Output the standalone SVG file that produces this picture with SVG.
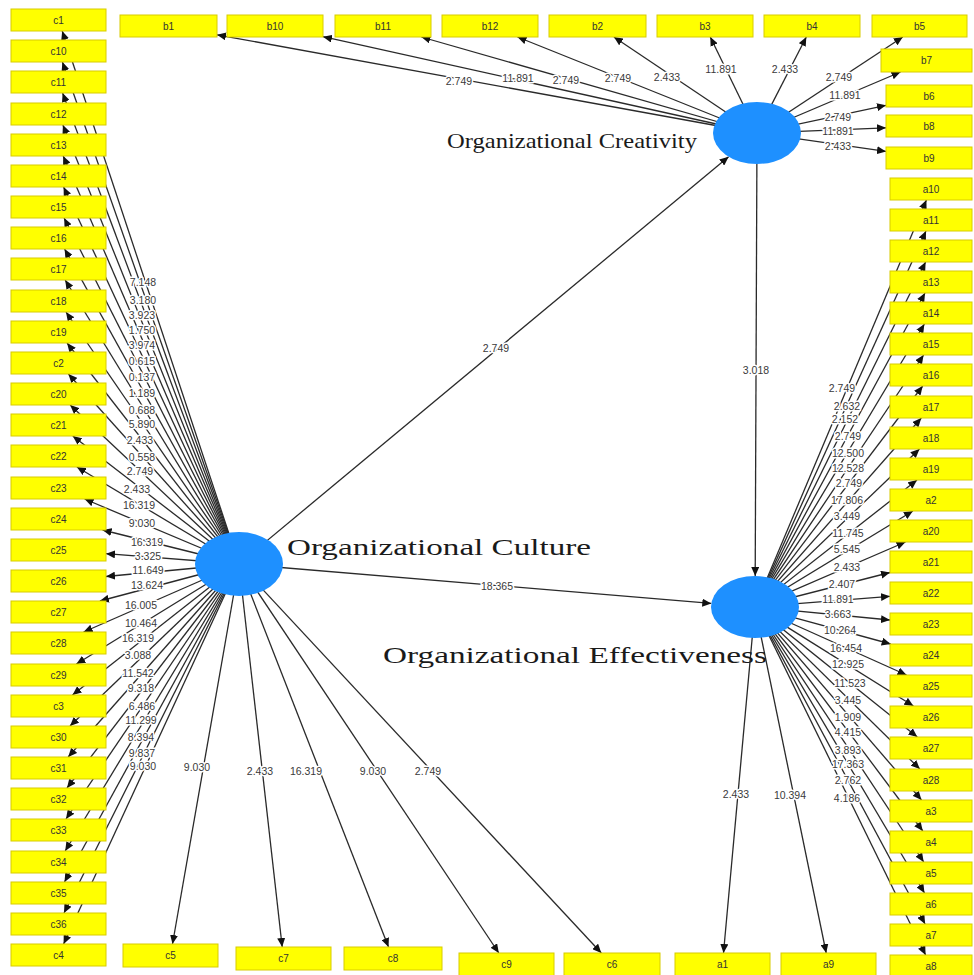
<svg xmlns="http://www.w3.org/2000/svg" width="974" height="975" viewBox="0 0 974 975">
<style>
.e{stroke:#2a2a2a;stroke-width:1.3;fill:none;marker-end:url(#ah)}
.l{font-family:"Liberation Sans",Arial,sans-serif;font-size:10.5px;fill:#3a3a3a;text-anchor:middle;stroke:#fff;stroke-width:3px;paint-order:stroke;stroke-linejoin:round}
.bx{fill:#ffff00;stroke:#d8cc00;stroke-width:1}
.bt{font-family:"Liberation Sans",Arial,sans-serif;font-size:10px;fill:#333;text-anchor:middle}
.lv{fill:#1e90ff}
.lt{font-family:"Liberation Serif","Times New Roman",serif;fill:#1a1a1a}
</style>
<defs>
<marker id="ah" viewBox="0 0 9 8" refX="9" refY="4" markerWidth="9" markerHeight="8" markerUnits="userSpaceOnUse" orient="auto">
<path d="M0,0 L9,4 L0,8 z" fill="#111"/>
</marker>
</defs>
<rect width="974" height="975" fill="#fff"/>
<g id="connectors">
<!-- structural -->
<line class="e" x1="239" y1="564" x2="728.6" y2="156.7"/>
<line class="e" x1="757" y1="133" x2="755.2" y2="576"/>
<line class="e" x1="239" y1="564" x2="711.3" y2="603.4"/>
<!-- culture to c (left) -->
<line class="e" x1="239" y1="564" x2="62.2" y2="31"/>
<line class="e" x1="239" y1="564" x2="62.4" y2="62"/>
<line class="e" x1="239" y1="564" x2="62.6" y2="93"/>
<line class="e" x1="239" y1="564" x2="62.9" y2="125"/>
<line class="e" x1="239" y1="564" x2="63.2" y2="156"/>
<line class="e" x1="239" y1="564" x2="63.6" y2="187"/>
<line class="e" x1="239" y1="564" x2="64.1" y2="218"/>
<line class="e" x1="239" y1="564" x2="64.6" y2="249"/>
<line class="e" x1="239" y1="564" x2="65.2" y2="280"/>
<line class="e" x1="239" y1="564" x2="66.0" y2="312"/>
<line class="e" x1="239" y1="564" x2="67.1" y2="343"/>
<line class="e" x1="239" y1="564" x2="68.4" y2="374"/>
<line class="e" x1="239" y1="564" x2="70.2" y2="405"/>
<line class="e" x1="239" y1="564" x2="72.8" y2="436"/>
<line class="e" x1="239" y1="564" x2="76.9" y2="467"/>
<line class="e" x1="239" y1="564" x2="84.6" y2="499"/>
<line class="e" x1="239" y1="564" x2="102.6" y2="530"/>
<line class="e" x1="239" y1="564" x2="106" y2="553.7"/>
<line class="e" x1="239" y1="564" x2="106" y2="576.5"/>
<line class="e" x1="239" y1="564" x2="99.9" y2="601"/>
<line class="e" x1="239" y1="564" x2="83.6" y2="632"/>
<line class="e" x1="239" y1="564" x2="76.4" y2="664"/>
<line class="e" x1="239" y1="564" x2="72.5" y2="695"/>
<line class="e" x1="239" y1="564" x2="70.0" y2="726"/>
<line class="e" x1="239" y1="564" x2="68.2" y2="757"/>
<line class="e" x1="239" y1="564" x2="67.0" y2="788"/>
<line class="e" x1="239" y1="564" x2="66.0" y2="819"/>
<line class="e" x1="239" y1="564" x2="65.2" y2="851"/>
<line class="e" x1="239" y1="564" x2="64.5" y2="882"/>
<line class="e" x1="239" y1="564" x2="64.0" y2="913"/>
<line class="e" x1="239" y1="564" x2="63.6" y2="944"/>
<!-- culture to bottom c -->
<line class="e" x1="239" y1="564" x2="172.5" y2="944"/>
<line class="e" x1="239" y1="564" x2="282.2" y2="947"/>
<line class="e" x1="239" y1="564" x2="388.5" y2="947"/>
<line class="e" x1="239" y1="564" x2="498.8" y2="953"/>
<line class="e" x1="239" y1="564" x2="601.3" y2="953"/>
<!-- creativity to b -->
<line class="e" x1="757" y1="133" x2="217" y2="34.8"/>
<line class="e" x1="757" y1="133" x2="323" y2="36.7"/>
<line class="e" x1="757" y1="133" x2="421.4" y2="37"/>
<line class="e" x1="757" y1="133" x2="517.5" y2="37"/>
<line class="e" x1="757" y1="133" x2="613.9" y2="37"/>
<line class="e" x1="757" y1="133" x2="710.3" y2="37"/>
<line class="e" x1="757" y1="133" x2="806.3" y2="37"/>
<line class="e" x1="757" y1="133" x2="902.8" y2="37"/>
<line class="e" x1="757" y1="133" x2="900.5" y2="72"/>
<line class="e" x1="757" y1="133" x2="886" y2="105.3"/>
<line class="e" x1="757" y1="133" x2="886" y2="127.8"/>
<line class="e" x1="757" y1="133" x2="886" y2="151.4"/>
<!-- effectiveness to a -->
<line class="e" x1="755" y1="607" x2="926.4" y2="200"/>
<line class="e" x1="755" y1="607" x2="926.0" y2="231"/>
<line class="e" x1="755" y1="607" x2="925.6" y2="262"/>
<line class="e" x1="755" y1="607" x2="925.0" y2="293"/>
<line class="e" x1="755" y1="607" x2="924.4" y2="324"/>
<line class="e" x1="755" y1="607" x2="923.6" y2="355"/>
<line class="e" x1="755" y1="607" x2="922.7" y2="386"/>
<line class="e" x1="755" y1="607" x2="921.3" y2="418"/>
<line class="e" x1="755" y1="607" x2="919.5" y2="449"/>
<line class="e" x1="755" y1="607" x2="917.0" y2="480"/>
<line class="e" x1="755" y1="607" x2="912.9" y2="511"/>
<line class="e" x1="755" y1="607" x2="905.5" y2="542"/>
<line class="e" x1="755" y1="607" x2="890" y2="572.5"/>
<line class="e" x1="755" y1="607" x2="890" y2="596.3"/>
<line class="e" x1="755" y1="607" x2="890" y2="620"/>
<line class="e" x1="755" y1="607" x2="890.7" y2="644"/>
<line class="e" x1="755" y1="607" x2="906.5" y2="675"/>
<line class="e" x1="755" y1="607" x2="913.4" y2="706"/>
<line class="e" x1="755" y1="607" x2="917.3" y2="737"/>
<line class="e" x1="755" y1="607" x2="919.8" y2="769"/>
<line class="e" x1="755" y1="607" x2="921.5" y2="800"/>
<line class="e" x1="755" y1="607" x2="922.8" y2="831"/>
<line class="e" x1="755" y1="607" x2="923.7" y2="862"/>
<line class="e" x1="755" y1="607" x2="924.5" y2="893"/>
<line class="e" x1="755" y1="607" x2="925.1" y2="924"/>
<line class="e" x1="755" y1="607" x2="925.6" y2="955"/>
<line class="e" x1="755" y1="607" x2="723.5" y2="953"/>
<line class="e" x1="755" y1="607" x2="826.2" y2="953"/>
<!-- labels -->
<g id="edge-labels">
<text class="l" x="496" y="352">2.749</text>
<text class="l" x="756" y="374">3.018</text>
<text class="l" x="497" y="590">18.365</text>
<text class="l" x="143" y="286">7.148</text>
<text class="l" x="143" y="304">3.180</text>
<text class="l" x="142" y="319">3.923</text>
<text class="l" x="142" y="334">1.750</text>
<text class="l" x="142" y="349">3.974</text>
<text class="l" x="142" y="365">0.615</text>
<text class="l" x="142" y="381">0.137</text>
<text class="l" x="142" y="397">1.189</text>
<text class="l" x="142" y="414">0.688</text>
<text class="l" x="142" y="428">5.890</text>
<text class="l" x="140" y="444">2.433</text>
<text class="l" x="142" y="461">0.558</text>
<text class="l" x="140" y="475">2.749</text>
<text class="l" x="137" y="493">2.433</text>
<text class="l" x="139" y="509">16.319</text>
<text class="l" x="142" y="527">9.030</text>
<text class="l" x="147" y="546">16.319</text>
<text class="l" x="148" y="560">3.325</text>
<text class="l" x="148" y="574">11.649</text>
<text class="l" x="147" y="589">13.624</text>
<text class="l" x="141" y="609">16.005</text>
<text class="l" x="141" y="627">10.464</text>
<text class="l" x="138" y="642">16.319</text>
<text class="l" x="138" y="659">3.088</text>
<text class="l" x="138" y="677">11.542</text>
<text class="l" x="141" y="692">9.318</text>
<text class="l" x="142" y="710">6.486</text>
<text class="l" x="141" y="724">11.299</text>
<text class="l" x="141" y="741">8.394</text>
<text class="l" x="142" y="757">9.837</text>
<text class="l" x="143" y="770">9.030</text>
<text class="l" x="197" y="771">9.030</text>
<text class="l" x="260" y="775">2.433</text>
<text class="l" x="306" y="775">16.319</text>
<text class="l" x="373" y="775">9.030</text>
<text class="l" x="428" y="775">2.749</text>
<text class="l" x="459" y="85">2.749</text>
<text class="l" x="518" y="82">11.891</text>
<text class="l" x="566" y="84">2.749</text>
<text class="l" x="618" y="82">2.749</text>
<text class="l" x="667" y="81">2.433</text>
<text class="l" x="721" y="73">11.891</text>
<text class="l" x="785" y="73">2.433</text>
<text class="l" x="839" y="81">2.749</text>
<text class="l" x="845" y="99">11.891</text>
<text class="l" x="838" y="121">2.749</text>
<text class="l" x="838" y="135">11.891</text>
<text class="l" x="838" y="150">2.433</text>
<text class="l" x="842" y="392">2.749</text>
<text class="l" x="847" y="410">2.632</text>
<text class="l" x="845" y="423">2.152</text>
<text class="l" x="848" y="440">2.749</text>
<text class="l" x="848" y="457">12.500</text>
<text class="l" x="848" y="472">12.528</text>
<text class="l" x="849" y="487">2.749</text>
<text class="l" x="847" y="504">17.806</text>
<text class="l" x="847" y="520">3.449</text>
<text class="l" x="848" y="537">11.745</text>
<text class="l" x="847" y="553">5.545</text>
<text class="l" x="847" y="571">2.433</text>
<text class="l" x="842" y="588">2.407</text>
<text class="l" x="838" y="603">11.891</text>
<text class="l" x="838" y="618">3.663</text>
<text class="l" x="840" y="634">10.264</text>
<text class="l" x="846" y="652">16.454</text>
<text class="l" x="848" y="668">12.925</text>
<text class="l" x="850" y="687">11.523</text>
<text class="l" x="848" y="704">3.445</text>
<text class="l" x="848" y="721">1.909</text>
<text class="l" x="848" y="736">4.415</text>
<text class="l" x="848" y="754">3.893</text>
<text class="l" x="848" y="768">17.363</text>
<text class="l" x="848" y="784">2.762</text>
<text class="l" x="847" y="802">4.186</text>
<text class="l" x="736" y="798">2.433</text>
<text class="l" x="790" y="799">10.394</text>
</g>
</g>
<!-- latent variables -->
<g id="culture"><ellipse class="lv" cx="239" cy="564" rx="44" ry="32"/><text class="lt" x="287" y="555" font-size="24" textLength="304" lengthAdjust="spacingAndGlyphs">Organizational Culture</text></g>
<g id="creativity"><ellipse class="lv" cx="757" cy="133" rx="44" ry="31"/><text class="lt" x="447" y="148" font-size="21" textLength="250" lengthAdjust="spacingAndGlyphs">Organizational Creativity</text></g>
<g id="effectiveness"><ellipse class="lv" cx="755" cy="607" rx="44" ry="31"/><text class="lt" x="383" y="663" font-size="24" textLength="384" lengthAdjust="spacingAndGlyphs">Organizational Effectiveness</text></g>
<!-- left c indicators -->
<g id="c1"><rect class="bx" x="11" y="9" width="95" height="22"/><text class="bt" x="58.5" y="23.5">c1</text></g>
<g id="c10"><rect class="bx" x="11" y="40" width="95" height="22"/><text class="bt" x="58.5" y="54.5">c10</text></g>
<g id="c11"><rect class="bx" x="11" y="71" width="95" height="22"/><text class="bt" x="58.5" y="85.5">c11</text></g>
<g id="c12"><rect class="bx" x="11" y="103" width="95" height="22"/><text class="bt" x="58.5" y="117.5">c12</text></g>
<g id="c13"><rect class="bx" x="11" y="134" width="95" height="22"/><text class="bt" x="58.5" y="148.5">c13</text></g>
<g id="c14"><rect class="bx" x="11" y="165" width="95" height="22"/><text class="bt" x="58.5" y="179.5">c14</text></g>
<g id="c15"><rect class="bx" x="11" y="196" width="95" height="22"/><text class="bt" x="58.5" y="210.5">c15</text></g>
<g id="c16"><rect class="bx" x="11" y="227" width="95" height="22"/><text class="bt" x="58.5" y="241.5">c16</text></g>
<g id="c17"><rect class="bx" x="11" y="258" width="95" height="22"/><text class="bt" x="58.5" y="272.5">c17</text></g>
<g id="c18"><rect class="bx" x="11" y="290" width="95" height="22"/><text class="bt" x="58.5" y="304.5">c18</text></g>
<g id="c19"><rect class="bx" x="11" y="321" width="95" height="22"/><text class="bt" x="58.5" y="335.5">c19</text></g>
<g id="c2"><rect class="bx" x="11" y="352" width="95" height="22"/><text class="bt" x="58.5" y="366.5">c2</text></g>
<g id="c20"><rect class="bx" x="11" y="383" width="95" height="22"/><text class="bt" x="58.5" y="397.5">c20</text></g>
<g id="c21"><rect class="bx" x="11" y="414" width="95" height="22"/><text class="bt" x="58.5" y="428.5">c21</text></g>
<g id="c22"><rect class="bx" x="11" y="445" width="95" height="22"/><text class="bt" x="58.5" y="459.5">c22</text></g>
<g id="c23"><rect class="bx" x="11" y="477" width="95" height="22"/><text class="bt" x="58.5" y="491.5">c23</text></g>
<g id="c24"><rect class="bx" x="11" y="508" width="95" height="22"/><text class="bt" x="58.5" y="522.5">c24</text></g>
<g id="c25"><rect class="bx" x="11" y="539" width="95" height="22"/><text class="bt" x="58.5" y="553.5">c25</text></g>
<g id="c26"><rect class="bx" x="11" y="570" width="95" height="22"/><text class="bt" x="58.5" y="584.5">c26</text></g>
<g id="c27"><rect class="bx" x="11" y="601" width="95" height="22"/><text class="bt" x="58.5" y="615.5">c27</text></g>
<g id="c28"><rect class="bx" x="11" y="632" width="95" height="22"/><text class="bt" x="58.5" y="646.5">c28</text></g>
<g id="c29"><rect class="bx" x="11" y="664" width="95" height="22"/><text class="bt" x="58.5" y="678.5">c29</text></g>
<g id="c3"><rect class="bx" x="11" y="695" width="95" height="22"/><text class="bt" x="58.5" y="709.5">c3</text></g>
<g id="c30"><rect class="bx" x="11" y="726" width="95" height="22"/><text class="bt" x="58.5" y="740.5">c30</text></g>
<g id="c31"><rect class="bx" x="11" y="757" width="95" height="22"/><text class="bt" x="58.5" y="771.5">c31</text></g>
<g id="c32"><rect class="bx" x="11" y="788" width="95" height="22"/><text class="bt" x="58.5" y="802.5">c32</text></g>
<g id="c33"><rect class="bx" x="11" y="819" width="95" height="22"/><text class="bt" x="58.5" y="833.5">c33</text></g>
<g id="c34"><rect class="bx" x="11" y="851" width="95" height="22"/><text class="bt" x="58.5" y="865.5">c34</text></g>
<g id="c35"><rect class="bx" x="11" y="882" width="95" height="22"/><text class="bt" x="58.5" y="896.5">c35</text></g>
<g id="c36"><rect class="bx" x="11" y="913" width="95" height="22"/><text class="bt" x="58.5" y="927.5">c36</text></g>
<g id="c4"><rect class="bx" x="11" y="944" width="95" height="22"/><text class="bt" x="58.5" y="958.5">c4</text></g>
<!-- bottom c indicators -->
<g id="c5"><rect class="bx" x="123" y="944" width="95" height="23"/><text class="bt" x="170.5" y="959">c5</text></g>
<g id="c7"><rect class="bx" x="236" y="947" width="95" height="23"/><text class="bt" x="283.5" y="962">c7</text></g>
<g id="c8"><rect class="bx" x="344" y="947" width="98" height="23"/><text class="bt" x="393" y="962">c8</text></g>
<g id="c9"><rect class="bx" x="459" y="953" width="95" height="23"/><text class="bt" x="506.5" y="968">c9</text></g>
<g id="c6"><rect class="bx" x="564" y="953" width="96" height="23"/><text class="bt" x="612" y="968">c6</text></g>
<!-- b indicators -->
<g id="b1"><rect class="bx" x="120" y="15" width="97" height="22"/><text class="bt" x="168.5" y="29.5">b1</text></g>
<g id="b10"><rect class="bx" x="227" y="15" width="96" height="22"/><text class="bt" x="275" y="29.5">b10</text></g>
<g id="b11"><rect class="bx" x="335" y="15" width="96" height="22"/><text class="bt" x="383" y="29.5">b11</text></g>
<g id="b12"><rect class="bx" x="442" y="15" width="96" height="22"/><text class="bt" x="490" y="29.5">b12</text></g>
<g id="b2"><rect class="bx" x="549" y="15" width="97" height="22"/><text class="bt" x="597.5" y="29.5">b2</text></g>
<g id="b3"><rect class="bx" x="657" y="15" width="96" height="22"/><text class="bt" x="705" y="29.5">b3</text></g>
<g id="b4"><rect class="bx" x="764" y="15" width="96" height="22"/><text class="bt" x="812" y="29.5">b4</text></g>
<g id="b5"><rect class="bx" x="872" y="15" width="95" height="22"/><text class="bt" x="919.5" y="29.5">b5</text></g>
<g id="b7"><rect class="bx" x="881" y="49" width="91" height="23"/><text class="bt" x="926.5" y="64">b7</text></g>
<g id="b6"><rect class="bx" x="886" y="85" width="86" height="22"/><text class="bt" x="929" y="99.5">b6</text></g>
<g id="b8"><rect class="bx" x="886" y="115" width="86" height="22"/><text class="bt" x="929" y="129.5">b8</text></g>
<g id="b9"><rect class="bx" x="886" y="147" width="86" height="22"/><text class="bt" x="929" y="161.5">b9</text></g>
<!-- a indicators -->
<g id="a10"><rect class="bx" x="890" y="178" width="82" height="22"/><text class="bt" x="931" y="192.5">a10</text></g>
<g id="a11"><rect class="bx" x="890" y="209" width="82" height="22"/><text class="bt" x="931" y="223.5">a11</text></g>
<g id="a12"><rect class="bx" x="890" y="240" width="82" height="22"/><text class="bt" x="931" y="254.5">a12</text></g>
<g id="a13"><rect class="bx" x="890" y="271" width="82" height="22"/><text class="bt" x="931" y="285.5">a13</text></g>
<g id="a14"><rect class="bx" x="890" y="302" width="82" height="22"/><text class="bt" x="931" y="316.5">a14</text></g>
<g id="a15"><rect class="bx" x="890" y="333" width="82" height="22"/><text class="bt" x="931" y="347.5">a15</text></g>
<g id="a16"><rect class="bx" x="890" y="364" width="82" height="22"/><text class="bt" x="931" y="378.5">a16</text></g>
<g id="a17"><rect class="bx" x="890" y="396" width="82" height="22"/><text class="bt" x="931" y="410.5">a17</text></g>
<g id="a18"><rect class="bx" x="890" y="427" width="82" height="22"/><text class="bt" x="931" y="441.5">a18</text></g>
<g id="a19"><rect class="bx" x="890" y="458" width="82" height="22"/><text class="bt" x="931" y="472.5">a19</text></g>
<g id="a2"><rect class="bx" x="890" y="489" width="82" height="22"/><text class="bt" x="931" y="503.5">a2</text></g>
<g id="a20"><rect class="bx" x="890" y="520" width="82" height="22"/><text class="bt" x="931" y="534.5">a20</text></g>
<g id="a21"><rect class="bx" x="890" y="551" width="82" height="22"/><text class="bt" x="931" y="565.5">a21</text></g>
<g id="a22"><rect class="bx" x="890" y="582" width="82" height="22"/><text class="bt" x="931" y="596.5">a22</text></g>
<g id="a23"><rect class="bx" x="890" y="613" width="82" height="22"/><text class="bt" x="931" y="627.5">a23</text></g>
<g id="a24"><rect class="bx" x="890" y="644" width="82" height="22"/><text class="bt" x="931" y="658.5">a24</text></g>
<g id="a25"><rect class="bx" x="890" y="675" width="82" height="22"/><text class="bt" x="931" y="689.5">a25</text></g>
<g id="a26"><rect class="bx" x="890" y="706" width="82" height="22"/><text class="bt" x="931" y="720.5">a26</text></g>
<g id="a27"><rect class="bx" x="890" y="737" width="82" height="22"/><text class="bt" x="931" y="751.5">a27</text></g>
<g id="a28"><rect class="bx" x="890" y="769" width="82" height="22"/><text class="bt" x="931" y="783.5">a28</text></g>
<g id="a3"><rect class="bx" x="890" y="800" width="82" height="22"/><text class="bt" x="931" y="814.5">a3</text></g>
<g id="a4"><rect class="bx" x="890" y="831" width="82" height="22"/><text class="bt" x="931" y="845.5">a4</text></g>
<g id="a5"><rect class="bx" x="890" y="862" width="82" height="22"/><text class="bt" x="931" y="876.5">a5</text></g>
<g id="a6"><rect class="bx" x="890" y="893" width="82" height="22"/><text class="bt" x="931" y="907.5">a6</text></g>
<g id="a7"><rect class="bx" x="890" y="924" width="82" height="22"/><text class="bt" x="931" y="938.5">a7</text></g>
<g id="a8"><rect class="bx" x="890" y="955" width="82" height="22"/><text class="bt" x="931" y="969.5">a8</text></g>
<g id="a1"><rect class="bx" x="675" y="953" width="95" height="23"/><text class="bt" x="722.5" y="968">a1</text></g>
<g id="a9"><rect class="bx" x="781" y="953" width="95" height="23"/><text class="bt" x="828.5" y="968">a9</text></g>
</svg>
